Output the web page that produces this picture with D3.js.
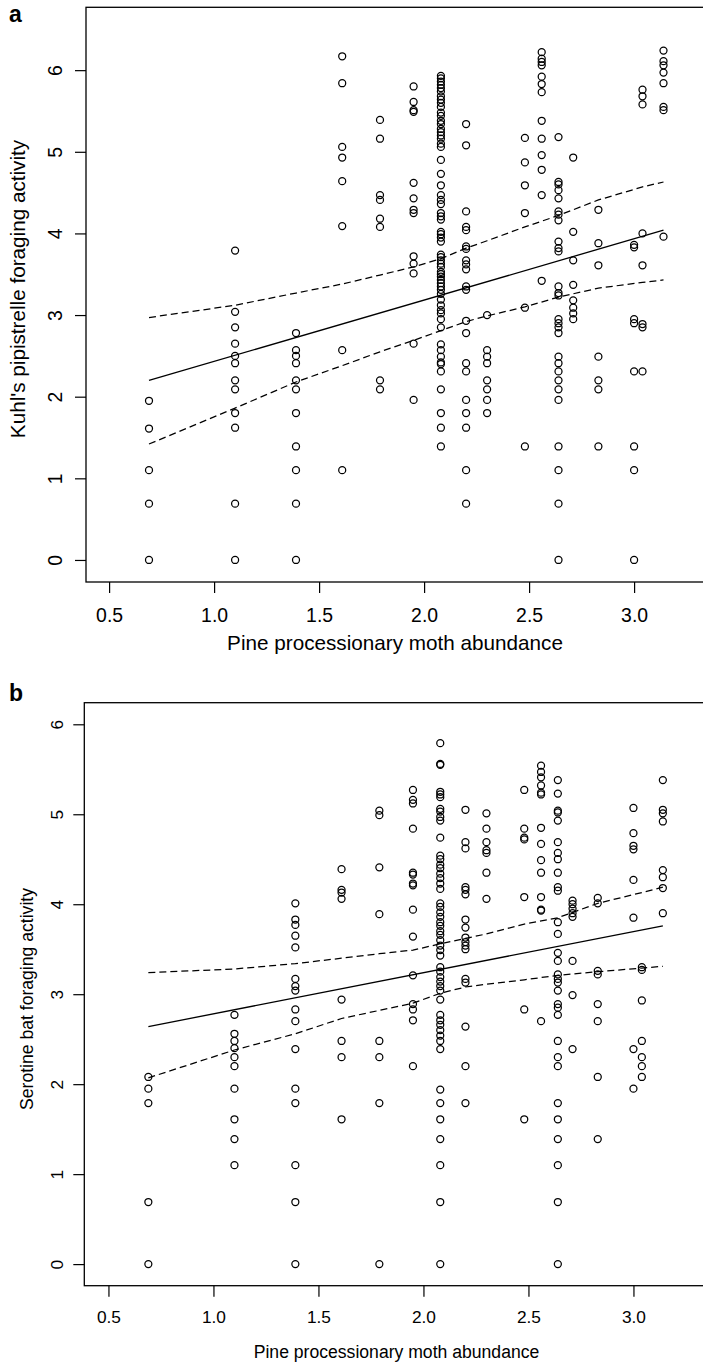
<!DOCTYPE html>
<html>
<head>
<meta charset="utf-8">
<script src="https://cdn.jsdelivr.net/npm/d3@7"></script>
<style>
  body { margin: 0; background: #fff; }
  svg { display: block; }
  text { font-family: "Liberation Sans", Arial, Helvetica, sans-serif; fill: #000; }
</style>
</head>
<body>
<svg id="fig" width="703" height="1366"></svg>
<script>
// Moth abundance levels (log scale) shared by both panels
const mothLevels = [0.69, 1.10, 1.39, 1.61, 1.79, 1.95, 2.08, 2.20, 2.30, 2.48, 2.56, 2.64, 2.71, 2.83, 3.00, 3.04, 3.14];

// Kuhl's pipistrelle foraging activity, one list per moth level
const kuhlActivity = [
  [1.95, 1.61, 1.10, 0.69, 0],
  [3.79, 3.04, 2.85, 2.65, 2.50, 2.41, 2.20, 2.09, 1.80, 1.62, 0.69, 0],
  [2.78, 2.57, 2.50, 2.41, 2.20, 2.09, 1.80, 1.39, 1.10, 0.69, 0],
  [6.17, 5.84, 5.06, 4.93, 4.64, 4.09, 2.57, 1.10],
  [5.39, 5.16, 4.47, 4.41, 4.18, 4.08, 2.20, 2.09],
  [5.80, 5.61, 5.51, 5.49, 4.62, 4.43, 4.29, 4.25, 3.72, 3.63, 3.51, 2.65, 1.96],
  [5.93, 5.90, 5.86, 5.82, 5.78, 5.74, 5.68, 5.64, 5.60, 5.55, 5.48, 5.44, 5.38, 5.34, 5.28, 5.24,
   5.20, 5.16, 5.10, 5.06, 4.90, 4.73, 4.59, 4.47, 4.41, 4.36, 4.25, 4.21, 4.17, 4.02, 3.99, 3.95,
   3.90, 3.74, 3.71, 3.67, 3.63, 3.59, 3.53, 3.50, 3.47, 3.43, 3.39, 3.35, 3.31, 3.26, 3.19, 3.12,
   3.06, 3.02, 2.95, 2.85, 2.64, 2.57, 2.49, 2.42, 2.40, 2.31, 2.09, 1.80, 1.62, 1.39],
  [5.34, 5.08, 4.27, 4.08, 4.04, 3.84, 3.81, 3.67, 3.62, 3.56, 3.35, 3.31, 2.93, 2.78, 2.41, 2.31, 1.96, 1.80, 1.62, 1.10, 0.69],
  [3.00, 2.57, 2.49, 2.41, 2.20, 2.09, 1.96, 1.80],
  [5.17, 4.87, 4.59, 4.25, 3.09, 1.39],
  [6.22, 6.14, 6.10, 6.06, 5.92, 5.83, 5.73, 5.38, 5.16, 4.96, 4.78, 4.47, 3.42],
  [5.18, 4.63, 4.60, 4.53, 4.43, 4.27, 4.23, 4.16, 3.90, 3.82, 3.78, 3.35, 3.27, 3.24, 2.95, 2.90,
   2.85, 2.78, 2.49, 2.41, 2.31, 2.20, 2.09, 1.96, 1.39, 1.10, 0.69, 0],
  [4.93, 4.02, 3.67, 3.37, 3.18, 3.09, 3.02, 2.95],
  [4.29, 3.88, 3.61, 2.49, 2.20, 2.09, 1.39],
  [3.86, 3.83, 2.95, 2.90, 2.31, 1.39, 1.10, 0],
  [5.76, 5.68, 5.58, 4.00, 3.61, 2.89, 2.85, 2.31],
  [6.24, 6.11, 6.06, 5.97, 5.84, 5.55, 5.51, 3.96]
];

// Serotine bat foraging activity, one list per moth level
const serotineActivity = [
  [2.08, 1.95, 1.79, 0.69, 0],
  [2.77, 2.56, 2.48, 2.40, 2.30, 2.20, 1.95, 1.61, 1.39, 1.10],
  [4.01, 3.83, 3.77, 3.65, 3.52, 3.17, 3.09, 3.04, 2.83, 2.70, 2.39, 1.95, 1.79, 1.10, 0.69, 0],
  [4.39, 4.16, 4.13, 4.06, 2.94, 2.48, 2.30, 1.61],
  [5.04, 4.99, 4.41, 3.89, 2.48, 2.30, 1.79, 0],
  [5.27, 5.16, 5.12, 4.84, 4.35, 4.33, 4.23, 4.21, 3.94, 3.64, 3.21, 2.89, 2.83, 2.71, 2.20],
  [5.79, 5.56, 5.55, 5.25, 5.22, 5.19, 5.06, 5.03, 4.97, 4.93, 4.74, 4.54, 4.50, 4.44, 4.40, 4.34,
   4.29, 4.23, 4.17, 4.01, 3.97, 3.91, 3.86, 3.80, 3.76, 3.70, 3.66, 3.60, 3.54, 3.49, 3.43, 3.30,
   3.25, 3.19, 3.14, 3.09, 3.04, 2.94, 2.77, 2.71, 2.66, 2.60, 2.54, 2.48, 2.39, 1.94, 1.79, 1.61,
   1.39, 1.10, 0.69, 0],
  [5.05, 4.69, 4.62, 4.19, 4.16, 4.11, 3.83, 3.74, 3.63, 3.58, 3.54, 3.50, 3.17, 3.13, 2.64, 2.20, 1.79],
  [5.01, 4.84, 4.69, 4.60, 4.57, 4.35, 4.06],
  [5.27, 4.84, 4.74, 4.72, 4.08, 2.83, 1.61],
  [5.54, 5.47, 5.41, 5.32, 5.24, 5.22, 4.85, 4.67, 4.49, 4.35, 4.08, 3.94, 3.93, 2.70],
  [5.38, 5.23, 5.04, 5.02, 4.93, 4.69, 4.57, 4.50, 4.35, 4.19, 4.15, 3.80, 3.67, 3.46, 3.37, 3.22,
   3.17, 3.13, 3.04, 2.89, 2.85, 2.77, 2.48, 2.30, 2.20, 1.79, 1.61, 1.39, 1.10, 0.69, 0],
  [4.04, 4.00, 3.95, 3.90, 3.86, 3.37, 2.99, 2.39],
  [4.07, 4.01, 3.26, 3.22, 2.89, 2.70, 2.08, 1.39],
  [5.07, 4.79, 4.65, 4.61, 4.27, 3.85, 2.39, 1.95],
  [3.30, 3.27, 2.93, 2.48, 2.30, 2.20, 2.08],
  [5.38, 5.05, 5.01, 4.92, 4.38, 4.30, 4.18, 3.90]
];

// Fitted line (ends) and confidence bands
const fitX = [0.69, 3.14];
const kuhlFit = [2.20, 4.04];
const serotineFit = [2.64, 3.76];
const bandX = [0.69, 1.10, 1.39, 1.61, 1.79, 1.95, 2.08, 2.20, 2.30, 2.48, 2.64, 2.83, 3.04, 3.14];
const kuhlUpper = [2.97, 3.12, 3.27, 3.38, 3.49, 3.59, 3.69, 3.82, 3.91, 4.08, 4.22, 4.41, 4.57, 4.63];
const kuhlLower = [1.42, 1.86, 2.18, 2.38, 2.55, 2.69, 2.81, 2.92, 2.99, 3.10, 3.22, 3.33, 3.40, 3.43];
const serotineUpper = [3.24, 3.28, 3.34, 3.40, 3.45, 3.49, 3.56, 3.62, 3.67, 3.78, 3.85, 4.01, 4.13, 4.19];
const serotineLower = [2.07, 2.38, 2.56, 2.73, 2.82, 2.90, 3.01, 3.08, 3.11, 3.16, 3.21, 3.25, 3.29, 3.31];

// Axis ticks and labels
const xTicks = [0.5, 1.0, 1.5, 2.0, 2.5, 3.0];
const yTicks = [0, 1, 2, 3, 4, 5, 6];
const xTitle = "Pine processionary moth abundance";

const svg = d3.select("#fig");

function drawPanel(p) {
  const g = svg.append("g");
  const x = d3.scaleLinear().domain(p.xlim).range([p.left, p.left + (p.xlim[1] - p.xlim[0]) * p.pxPerX]);
  const y = d3.scaleLinear().domain(p.ylim).range([p.bottom, p.top]);

  // plot frame
  g.append("rect")
    .attr("x", p.left).attr("y", p.top)
    .attr("width", x.range()[1] - p.left).attr("height", p.bottom - p.top)
    .attr("fill", "none").attr("stroke", "#000").attr("stroke-width", 1.3);

  // x axis
  const xa = g.append("g").attr("transform", `translate(0,${p.bottom})`)
    .call(d3.axisBottom(x).tickValues(xTicks).tickSize(11).tickFormat(d3.format(".1f")));
  xa.select(".domain").remove();
  xa.selectAll(".tick line").attr("stroke", "#000").attr("stroke-width", 1.2);
  xa.selectAll(".tick text")
    .attr("y", p.xTickBase - p.bottom).attr("dy", null)
    .style("font-size", p.tickFont + "px").attr("fill", "#000");

  // y axis with labels parallel to the axis
  const ya = g.append("g").attr("transform", `translate(${p.left},0)`)
    .call(d3.axisLeft(y).tickValues(yTicks).tickSize(11).tickFormat(d3.format("d")));
  ya.select(".domain").remove();
  ya.selectAll(".tick line").attr("stroke", "#000").attr("stroke-width", 1.2);
  ya.selectAll(".tick text")
    .attr("x", null).attr("dy", null)
    .attr("transform", `translate(${p.yTickBase - p.left},0) rotate(-90)`)
    .attr("text-anchor", "middle")
    .style("font-size", p.tickFont + "px").attr("fill", "#000");

  // axis titles
  g.append("text")
    .attr("x", p.xTitleX).attr("y", p.xTitleBase)
    .attr("text-anchor", "middle").style("font-size", p.titleFont + "px")
    .text(xTitle);
  g.append("text")
    .attr("transform", `translate(${p.yTitleBase},${p.yTitleY}) rotate(-90)`)
    .attr("text-anchor", "middle").style("font-size", p.titleFont + "px")
    .text(p.yTitle);

  // panel letter
  g.append("text")
    .attr("x", p.letterX).attr("y", p.letterBase)
    .style("font-size", "23px").style("font-weight", "bold")
    .text(p.letter);

  // observations
  const pts = [];
  mothLevels.forEach((m, i) => p.values[i].forEach(v => pts.push([m, v])));
  g.append("g").selectAll("circle").data(pts).join("circle")
    .attr("cx", d => x(d[0])).attr("cy", d => y(d[1])).attr("r", 3.5)
    .attr("fill", "none").attr("stroke", "#000").attr("stroke-width", 1.25);

  // fitted line and confidence bands
  const line = d3.line().x(d => x(d[0])).y(d => y(d[1]));
  g.append("path").attr("d", line(d3.zip(fitX, p.fit)))
    .attr("fill", "none").attr("stroke", "#000").attr("stroke-width", 1.3);
  [p.upper, p.lower].forEach(b => {
    g.append("path").attr("d", line(d3.zip(bandX, b)))
      .attr("fill", "none").attr("stroke", "#000").attr("stroke-width", 1.25)
      .attr("stroke-dasharray", "7,4");
  });
}

drawPanel({
  letter: "a", letterX: 9, letterBase: 22,
  values: kuhlActivity, fit: kuhlFit, upper: kuhlUpper, lower: kuhlLower,
  xlim: [0.39, 3.36], pxPerX: 210, left: 86,
  ylim: [-0.27, 6.77], top: 7.3, bottom: 582,
  tickFont: 19.4, titleFont: 20.7,
  xTickBase: 621.5, yTickBase: 61.5,
  xTitleX: 395, xTitleBase: 650,
  yTitle: "Kuhl's pipistrelle foraging activity", yTitleBase: 25, yTitleY: 289
});

drawPanel({
  letter: "b", letterX: 9, letterBase: 701,
  values: serotineActivity, fit: serotineFit, upper: serotineUpper, lower: serotineLower,
  xlim: [0.385, 3.36], pxPerX: 210, left: 84.3,
  ylim: [-0.24, 6.24], top: 702.7, bottom: 1285.7,
  tickFont: 17.3, titleFont: 17.6,
  xTickBase: 1323, yTickBase: 63,
  xTitleX: 396.5, xTitleBase: 1358,
  yTitle: "Serotine bat foraging activity", yTitleBase: 33, yTitleY: 999
});
</script>
</body>
</html>
